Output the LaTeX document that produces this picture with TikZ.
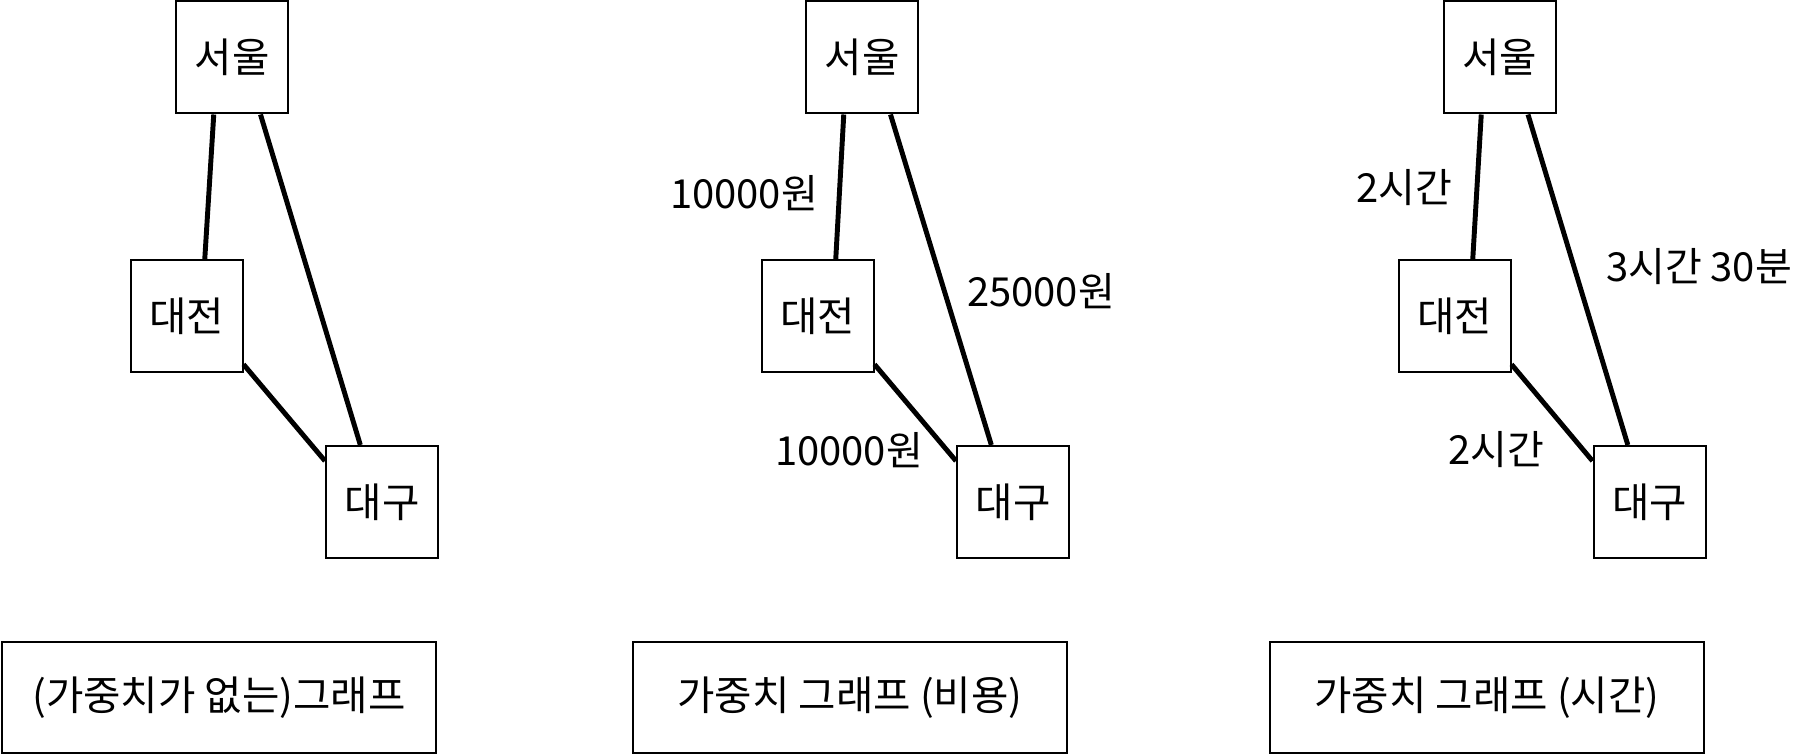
\documentclass[tikz,border=0pt]{standalone}
\usepackage{fontspec}
\setmainfont{Noto Sans CJK KR}
\usetikzlibrary{calc}
\tikzset{
  citybox/.style={draw=black, line width=1.5pt, minimum width=84pt, minimum height=84pt, inner sep=0pt, font=\fontsize{30.5}{36}\selectfont},
  titlebox/.style={draw=black, line width=1.5pt, minimum width=326pt, minimum height=83pt, inner sep=0pt, font=\fontsize{30.5}{36}\selectfont},
  wlabel/.style={inner sep=0pt, font=\fontsize{30}{36}\selectfont},
  edge/.style={line width=3.7pt, black},
}
\begin{document}
\begin{tikzpicture}[x=0.75pt,y=-0.75pt]
\useasboundingbox (0,0) rectangle (1818,755);
% panel 1
\node[citybox] (s1) at (232,57.5) {서울};
\node[citybox] (d1) at (186.5,316.5) {대전};
\node[citybox] (g1) at (382,502) {대구};
\node[titlebox] (t1) at (219,697.5) {(가중치가 없는)그래프};
\draw[edge] ($(s1.south west)!0.34!(s1.south east)$) -- ($(d1.north west)!0.66!(d1.north east)$);
\draw[edge] ($(s1.south west)!0.75!(s1.south east)$) -- ($(g1.north west)!0.31!(g1.north east)$);
\draw[edge] ($(d1.north east)!0.92!(d1.south east)$) -- ($(g1.north west)!0.14!(g1.south west)$);
% panel 2
\node[citybox] (s2) at (862,57.5) {서울};
\node[citybox] (d2) at (817.5,316.5) {대전};
\node[citybox] (g2) at (1013,502) {대구};
\node[titlebox] (t2) at (850,697.5) {가중치 그래프 (비용)};
\draw[edge] ($(s2.south west)!0.34!(s2.south east)$) -- ($(d2.north west)!0.66!(d2.north east)$);
\draw[edge] ($(s2.south west)!0.75!(s2.south east)$) -- ($(g2.north west)!0.31!(g2.north east)$);
\draw[edge] ($(d2.north east)!0.92!(d2.south east)$) -- ($(g2.north west)!0.14!(g2.south west)$);
\node[wlabel] (l2a) at (744,193) {10000원};
\node[wlabel] (l2b) at (1041,291) {25000원};
\node[wlabel] (l2c) at (849,450) {10000원};
% panel 3
\node[citybox] (s3) at (1499.5,57.5) {서울};
\node[citybox] (d3) at (1454.5,316.5) {대전};
\node[citybox] (g3) at (1649.5,502) {대구};
\node[titlebox] (t3) at (1487,697.5) {가중치 그래프 (시간)};
\draw[edge] ($(s3.south west)!0.34!(s3.south east)$) -- ($(d3.north west)!0.66!(d3.north east)$);
\draw[edge] ($(s3.south west)!0.75!(s3.south east)$) -- ($(g3.north west)!0.31!(g3.north east)$);
\draw[edge] ($(d3.north east)!0.92!(d3.south east)$) -- ($(g3.north west)!0.14!(g3.south west)$);
\node[wlabel] (l3a) at (1404,188) {2시간};
\node[wlabel] (l3b) at (1699,267) {3시간 30분};
\node[wlabel] (l3c) at (1496,450) {2시간};
\end{tikzpicture}
\end{document}
